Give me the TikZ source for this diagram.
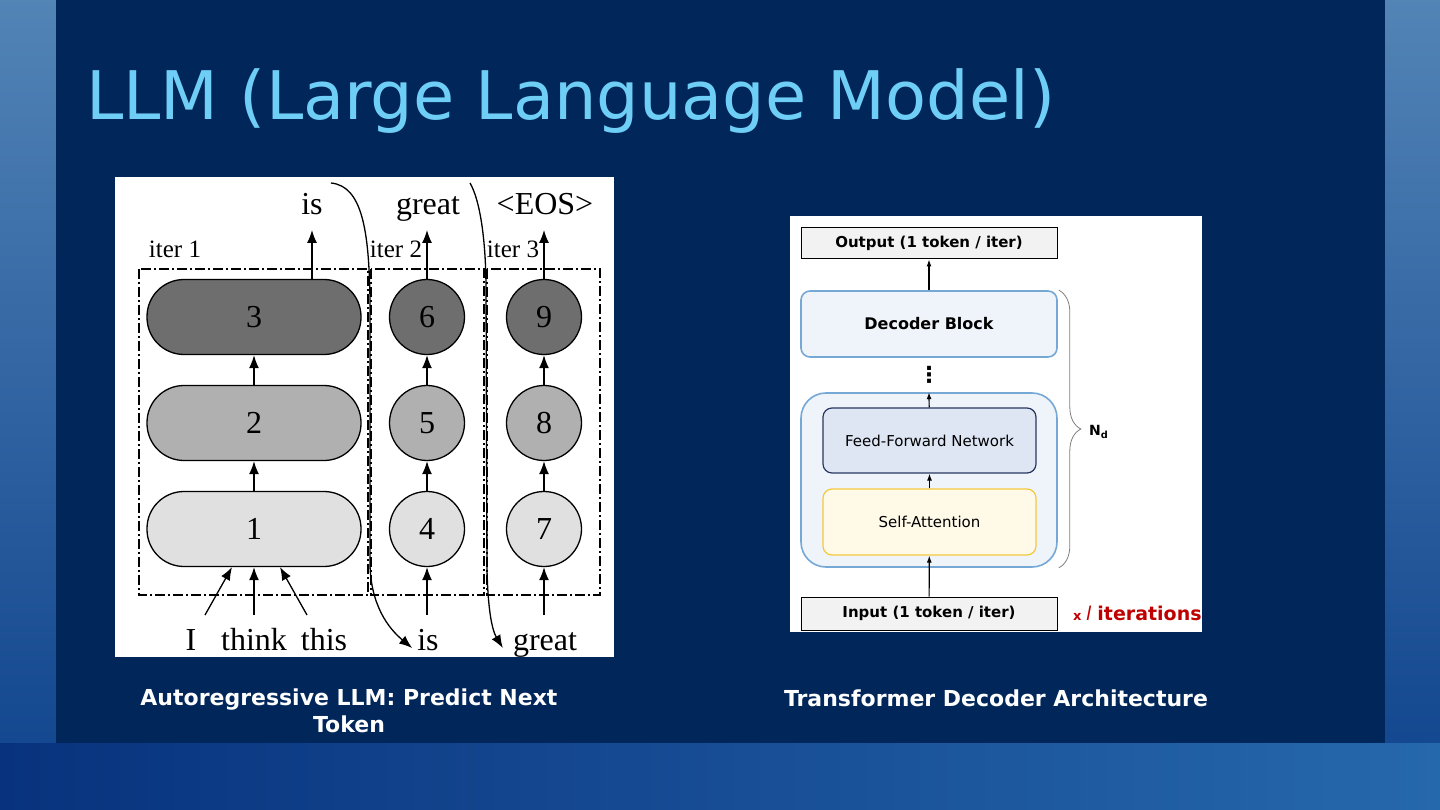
\documentclass[tikz,border=0pt]{standalone}
\usepackage{fontspec}
\setmainfont{DejaVu Sans}
\newfontfamily\timesf{Liberation Serif}
\usetikzlibrary{arrows.meta,calc,decorations.pathreplacing}
\definecolor{navy}{RGB}{0,38,90}
\definecolor{titlecyan}{RGB}{110,206,246}
\definecolor{skyblue}{RGB}{82,132,182}
\definecolor{deepblue}{RGB}{14,66,140}
\definecolor{lowleft}{RGB}{8,50,125}
\definecolor{lowright}{RGB}{38,104,172}
\definecolor{gdark}{RGB}{110,110,110}
\definecolor{gmid}{RGB}{176,176,176}
\definecolor{glight}{RGB}{224,224,224}
\definecolor{iogray}{RGB}{242,242,242}
\definecolor{blkfill}{RGB}{238,244,250}
\definecolor{blkedge}{RGB}{118,168,214}
\definecolor{ffnfill}{RGB}{222,230,244}
\definecolor{ffnedge}{RGB}{40,55,95}
\definecolor{safill}{RGB}{255,249,232}
\definecolor{saedge}{RGB}{245,200,60}
\definecolor{itred}{RGB}{192,0,0}

\begin{document}
\begin{tikzpicture}[x=1pt,y=-1pt,>=Stealth]
\tikzstyle{pill}=[draw,line width=1.3pt,rounded corners=37pt,minimum width=214pt,minimum height=75pt,font=\timesf\fontsize{32}{34}\selectfont]
\tikzstyle{circ}=[draw,circle,line width=1.3pt,minimum size=75pt,inner sep=0pt,font=\timesf\fontsize{32}{34}\selectfont]
\tikzstyle{wd}=[font=\timesf\fontsize{32}{34}\selectfont,inner sep=2pt,anchor=base]
\tikzstyle{itl}=[font=\timesf\fontsize{25}{28}\selectfont,inner sep=1pt,anchor=base]
\tikzstyle{arr}=[-{Latex[length=13pt,width=10pt]},line width=1.3pt]
\tikzstyle{dashdot}=[line width=1.3pt,dash pattern=on 10pt off 3pt on 2pt off 3pt]
\tikzstyle{io}=[draw,line width=1pt,fill=iogray,minimum width=256pt,font=\bfseries\fontsize{15}{18}\selectfont]
\tikzstyle{inner}=[draw,line width=1.2pt,rounded corners=9pt,minimum width=213pt,minimum height=66pt,font=\fontsize{15}{18}\selectfont]
\tikzstyle{sarr}=[-{Latex[length=7pt,width=5pt]},line width=1.2pt]
\useasboundingbox (0,0) rectangle (1440,810);
\shade[top color=skyblue,bottom color=deepblue] (0,0) rectangle (1440,810);
\shade[left color=lowleft,right color=lowright] (0,743) rectangle (1440,810);
\fill[navy] (56,0) rectangle (1385,743);
\node[anchor=base west,text=titlecyan,font=\fontsize{67}{71}\selectfont,inner sep=0pt] (title) at (86,120) {LLM (Large Language Model)};
\fill[white] (115,177) rectangle (614,657);
\fill[white] (790,216) rectangle (1202,632);
\draw[dashdot] (139,269) rectangle (368,595); \draw[dashdot] (371,269) rectangle (484,595); \draw[dashdot] (487,269) rectangle (600,595);
\node[pill,fill=gdark] (p3) at (254,317) {3}; \node[pill,fill=gmid] (p2) at (254,423) {2}; \node[pill,fill=glight] (p1) at (254,529) {1};
\node[circ,fill=gdark] (c6) at (427,317) {6}; \node[circ,fill=gmid] (c5) at (427,423) {5}; \node[circ,fill=glight] (c4) at (427,529) {4};
\node[circ,fill=gdark] (c9) at (544,317) {9}; \node[circ,fill=gmid] (c8) at (544,423) {8}; \node[circ,fill=glight] (c7) at (544,529) {7};
\node[itl] (it1) at (175,258) {iter 1}; \node[itl] (it2) at (396,258) {iter 2}; \node[itl] (it3) at (513,258) {iter 3};
\node[wd] (o1) at (312,215) {is}; \node[wd] (o2) at (428,215) {great}; \node[wd] (o3) at (545,215) {<EOS>};
\node[wd] (w1) at (191,650) {I}; \node[wd] (w2) at (254,650) {think}; \node[wd] (w3) at (324,650) {this}; \node[wd] (w4) at (428,650) {is}; \node[wd] (w5) at (545,650) {great};
\draw[arr] (p1) -- (p2); \draw[arr] (p2) -- (p3); \draw[arr] (c4) -- (c5); \draw[arr] (c5) -- (c6); \draw[arr] (c7) -- (c8); \draw[arr] (c8) -- (c9);
\draw[arr] ($(p3.north)+(58,0)$) -- ($(o1.base)+(0,15)$); \draw[arr] (c6) -- ($(o2.base)+(-1,15)$); \draw[arr] (c9) -- ($(o3.base)+(-1,15)$);
\draw[arr] ($(w1.base)+(14,-35)$) -- ($(p1.south)+(-22,0)$); \draw[arr] ($(w2.base)+(0,-35)$) -- (p1.south); \draw[arr] ($(w3.base)+(-17,-35)$) -- ($(p1.south)+(26,0)$);
\draw[arr] ($(w4.base)+(-1,-35)$) -- (c4); \draw[arr] ($(w5.base)+(-1,-35)$) -- (c7);
\coordinate (h1) at (331,183); \coordinate (h2) at (470,183);
\draw[arr] (h1) .. controls (362,186) and (369,230) .. (370,300) -- (370,565) .. controls (371,605) and (388,628) .. ($(w4.base west)+(-3,-2)$);
\draw[arr] (h2) .. controls (480,200) and (486,240) .. (486,290) -- (487,570) .. controls (488,610) and (492,630) .. ($(w5.base west)+(-8,-2)$);
\node[io,minimum height=31pt] (out) at (929,243.5) {Output (1 token / iter)};
\node[draw=blkedge,line width=1.6pt,fill=blkfill,rounded corners=9pt,minimum width=256pt,minimum height=66pt,font=\bfseries\fontsize{16}{19}\selectfont] (dec) at (929,324) {Decoder Block};
\node[font=\bfseries\fontsize{22}{24}\selectfont,inner sep=0pt] (dots) at (929,375) {⋮};
\node[draw=blkedge,line width=1.6pt,fill=blkfill,rounded corners=25pt,minimum width=256pt,minimum height=174pt] (cont) at (929,480) {};
\node[inner,draw=ffnedge,fill=ffnfill,minimum height=65pt] (ffn) at (929.5,440.5) {Feed-Forward Network};
\node[inner,draw=saedge,fill=safill] (sa) at (929.5,522) {Self-Attention};
\node[io,minimum height=33pt] (inp) at (929,613.5) {Input (1 token / iter)};
\draw[sarr] (dec) -- (out); \draw[sarr] (ffn) -- (cont.north); \draw[sarr] (sa) -- (ffn); \draw[sarr] (inp) -- (sa);
\draw[decorate,decoration={brace,amplitude=22pt},gray,line width=0.8pt] ($(dec.north east)+(1,0)$) -- ($(cont.south east)+(1,0)$);
\node[anchor=west,font=\bfseries\fontsize{14}{16}\selectfont,inner sep=0pt] (nd) at (1089,432) {N\textsubscript{d}};
\node[anchor=base west,text=itred,inner sep=0pt] (iters) at (1073,620) {\fontsize{13}{15}\selectfont\bfseries x \fontsize{19}{21}\selectfont\mdseries\itshape l \bfseries\upshape iterations};
\node[text=white,font=\bfseries\fontsize{22}{27}\selectfont,align=center] (cap1) at (349,711) {Autoregressive LLM: Predict Next\\Token};
\node[text=white,font=\bfseries\fontsize{22}{27}\selectfont,anchor=base] (cap2) at (996,706) {Transformer Decoder Architecture};
\end{tikzpicture}
\end{document}
